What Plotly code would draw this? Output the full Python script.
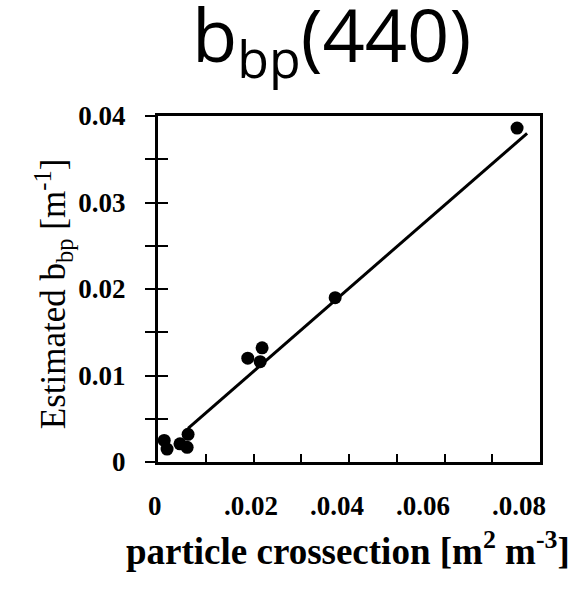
import plotly.graph_objects as go

# data
x_obs = [0.0013, 0.0019, 0.0046, 0.0061, 0.0063, 0.0188, 0.0214, 0.0218, 0.0371, 0.0752]
y_obs = [0.0025, 0.0015, 0.0021, 0.0017, 0.0032, 0.0120, 0.0116, 0.0132, 0.0190, 0.0386]
fit_x = [0.0063, 0.0773]
fit_y = [0.0039, 0.0380]

y_tickvals = [0, 0.005, 0.01, 0.015, 0.02, 0.025, 0.03, 0.035, 0.04]
y_ticktext = ["0", "", "0.01", "", "0.02", "", "0.03", "", "0.04"]
x_tickvals = [0, 0.01, 0.02, 0.03, 0.04, 0.05, 0.06, 0.07, 0.08]
x_label_text = ["0", ".0.02", ".0.04", ".0.06", ".0.08"]
x_label_pos = [0.0, 0.0194, 0.0374, 0.0556, 0.0755]

serif = "Liberation Serif"

fig = go.Figure()
fig.add_trace(go.Scatter(x=fit_x, y=fit_y, mode="lines",
                         line=dict(color="black", width=3), showlegend=False))
fig.add_trace(go.Scatter(x=x_obs, y=y_obs, mode="markers",
                         marker=dict(color="black", size=13), showlegend=False))
# invisible trace to activate the inner y-tick axis
fig.add_trace(go.Scatter(x=[0], y=[0], mode="markers", yaxis="y2",
                         marker=dict(opacity=0), showlegend=False, hoverinfo="skip"))

fig.update_layout(
    width=580, height=597,
    margin=dict(l=158, r=40, t=116, b=135),
    paper_bgcolor="white", plot_bgcolor="white",
    xaxis=dict(range=[0, 0.08], tickvals=x_tickvals, showticklabels=False,
               ticks="inside", ticklen=8, tickwidth=2, tickcolor="black",
               showline=True, linewidth=3, linecolor="black", mirror=True,
               showgrid=False, zeroline=False),
    yaxis=dict(range=[0, 0.04], tickvals=y_tickvals, ticktext=y_ticktext,
               ticks="outside", ticklen=10, tickwidth=2, tickcolor="black",
               ticklabelstandoff=14,
               tickfont=dict(family=serif, size=27, color="black", weight="bold"),
               showline=True, linewidth=3, linecolor="black", mirror=True,
               showgrid=False, zeroline=False),
    yaxis2=dict(range=[0, 0.04], overlaying="y", side="left",
                tickvals=y_tickvals, showticklabels=False,
                ticks="inside", ticklen=10, tickwidth=2, tickcolor="black",
                showline=False, showgrid=False, zeroline=False),
)

# title
fig.add_annotation(x=(331 - 158) / 382, y=(462 - 38) / 346, xref="paper", yref="paper",
                   text="b<sub>bp</sub>(440)", showarrow=False,
                   xanchor="center", yanchor="middle",
                   font=dict(family="Open Sans", size=74, color="black"))

for xt, tx in zip(x_label_pos, x_label_text):
    fig.add_annotation(x=xt, y=0, xref="x", yref="paper", yshift=-44,
                       xshift=-3 if tx == "0" else 0,
                       text=tx, showarrow=False, xanchor="center", yanchor="middle",
                       font=dict(family=serif, size=27, color="black", weight="bold"))

fig.add_annotation(x=0.497, y=-0.25, xref="paper", yref="paper",
                   text="particle crossection [m<sup>2</sup> m<sup>-3</sup>]",
                   showarrow=False, xanchor="center", yanchor="middle",
                   font=dict(family=serif, size=37, color="black", weight="bold"))
fig.add_annotation(x=-0.275, y=0.485, xref="paper", yref="paper", textangle=-90,
                   text="Estimated b<sub>bp</sub> [m<sup>-1</sup>]",
                   showarrow=False, xanchor="center", yanchor="middle",
                   font=dict(family=serif, size=35, color="black"))

fig.write_html("out.html")
